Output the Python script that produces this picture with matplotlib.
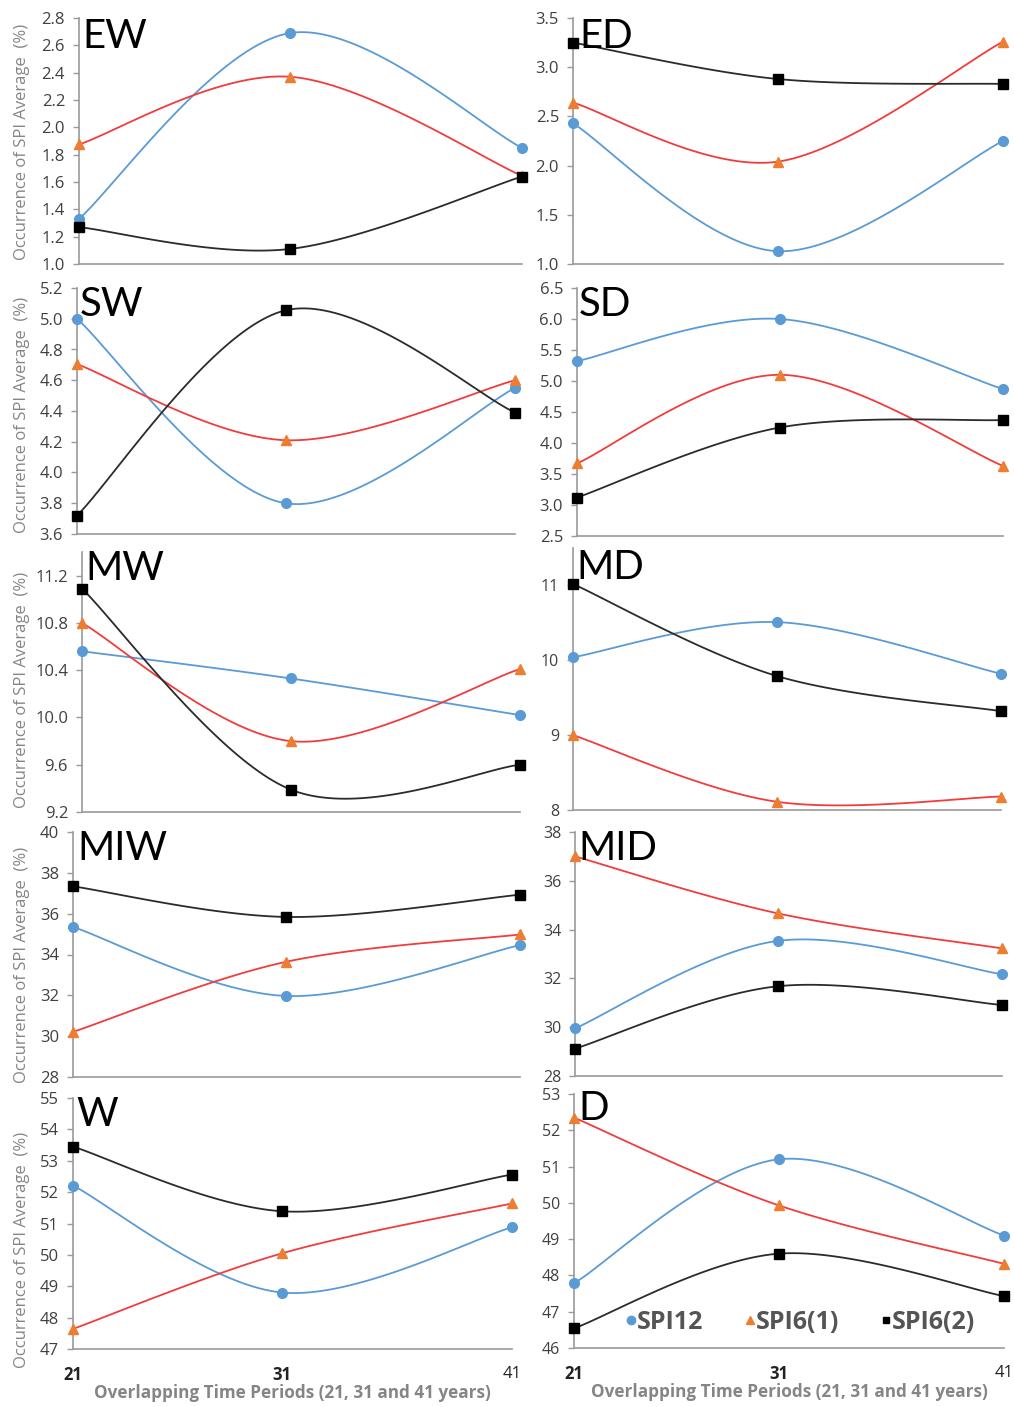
import numpy as np
import matplotlib
matplotlib.use("Agg")
import matplotlib.pyplot as plt
from matplotlib.lines import Line2D

plt.rcParams['font.family'] = ['Open Sans', 'DejaVu Sans']

periods = [21, 31, 41]

# values, order: 21, 31, 41 years
EW_SPI12 = [1.33, 2.69, 1.85]
EW_SPI6_1 = [1.875, 2.37, 1.645]
EW_SPI6_2 = [1.27, 1.11, 1.64]

ED_SPI12 = [2.43, 1.13, 2.25]
ED_SPI6_1 = [2.64, 2.04, 3.26]
ED_SPI6_2 = [3.25, 2.88, 2.83]

SW_SPI12 = [5.00, 3.80, 4.55]
SW_SPI6_1 = [4.705, 4.21, 4.60]
SW_SPI6_2 = [3.72, 5.055, 4.39]

SD_SPI12 = [5.32, 6.00, 4.87]
SD_SPI6_1 = [3.67, 5.10, 3.63]
SD_SPI6_2 = [3.12, 4.25, 4.37]

MW_SPI12 = [10.56, 10.33, 10.02]
MW_SPI6_1 = [10.80, 9.80, 10.41]
MW_SPI6_2 = [11.09, 9.39, 9.60]

MD_SPI12 = [10.04, 10.51, 9.82]
MD_SPI6_1 = [9.00, 8.11, 8.18]
MD_SPI6_2 = [11.02, 9.79, 9.32]

MIW_SPI12 = [35.35, 31.97, 34.46]
MIW_SPI6_1 = [30.21, 33.64, 34.98]
MIW_SPI6_2 = [37.34, 35.84, 36.93]

MID_SPI12 = [29.95, 33.54, 32.17]
MID_SPI6_1 = [37.00, 34.66, 33.23]
MID_SPI6_2 = [29.12, 31.68, 30.91]

W_SPI12 = [52.21, 48.80, 50.88]
W_SPI6_1 = [47.64, 50.05, 51.64]
W_SPI6_2 = [53.45, 51.39, 52.56]

D_SPI12 = [47.78, 51.20, 49.10]
D_SPI6_1 = [52.35, 49.93, 48.32]
D_SPI6_2 = [46.54, 48.60, 47.43]

series_names = ['SPI12', 'SPI6(1)', 'SPI6(2)']

W_PX, H_PX = 1014, 1407
fig = plt.figure(figsize=(W_PX / 100, H_PX / 100), dpi=100)

BLUE = '#5B9BD5'
RED = '#F23C3C'
ORANGE = '#ED7D31'
BLACK = '#2b2b2b'
AXC = '#9a9a9a'
TXT = '#404040'

# the source image puts 31 a bit left of centre, a mild power scale mimics it
P_EXP = 1.07


def fwd(x):
    d = np.asarray(x, dtype=float) - 21
    return np.sign(d) * np.abs(d) ** P_EXP


def inv(y):
    y = np.asarray(y, dtype=float)
    return 21 + np.sign(y) * np.abs(y) ** (1 / P_EXP)


def smooth(xs, ys, n=50):
    # excel-like smoothed line (catmull-rom as bezier)
    pts = np.column_stack([xs, ys]).astype(float)
    P = np.vstack([pts[0], pts, pts[-1]])
    t = np.linspace(0, 1, n)[:, None]
    out = []
    for i in range(1, len(P) - 2):
        p0, p1, p2, p3 = P[i - 1], P[i], P[i + 1], P[i + 2]
        c1 = p1 + (p2 - p0) / 6
        c2 = p2 - (p3 - p1) / 6
        seg = (1 - t) ** 3 * p1 + 3 * (1 - t) ** 2 * t * c1 + 3 * (1 - t) * t ** 2 * c2 + t ** 3 * p2
        out.append(seg)
    out = np.vstack(out)
    return out[:, 0], out[:, 1]


def panel(x21, x41, ytop_px, ybot_px, ylim, yticks, fmt, name, title_xy, data,
          tick_fs=12, bottom=False, ylab_y=None):
    left = x21 / W_PX
    width = (x41 - x21) / W_PX
    bot = 1 - ybot_px / H_PX
    height = (ybot_px - ytop_px) / H_PX
    ax = fig.add_axes([left, bot, width, height])
    ax.set_xscale('function', functions=(fwd, inv))
    s12, s61, s62 = data
    for ys, lc, mc, mk, ms in [(s12, BLUE, BLUE, 'o', 7),
                               (s61, RED, ORANGE, '^', 7),
                               (s62, BLACK, 'black', 's', 7)]:
        sx, sy = smooth(fwd(periods), ys)
        ax.plot(inv(sx), sy, color=lc, lw=1.3, clip_on=False, zorder=2)
        ax.plot(periods, ys, linestyle='none', marker=mk, ms=ms, color=mc,
                clip_on=False, zorder=3)
    ax.set_xlim(21, 41)
    ax.set_ylim(*ylim)
    ax.set_yticks(yticks)
    ax.set_yticklabels([fmt.format(v) for v in yticks])
    ax.tick_params(axis='y', length=4, width=1, color=AXC, labelsize=tick_fs,
                   labelcolor=TXT, pad=6)
    ax.minorticks_off()
    for sp in ['top', 'right']:
        ax.spines[sp].set_visible(False)
    for sp in ['left', 'bottom']:
        ax.spines[sp].set_color(AXC)
        ax.spines[sp].set_linewidth(1.2)
    ax.set_xticks(periods)
    ax.set_xticklabels([str(p) for p in periods])
    if bottom:
        ax.tick_params(axis='x', length=0, pad=12, labelsize=12, labelcolor='#222222')
        labs = ax.get_xticklabels()
        labs[0].set_fontweight('bold')
        labs[1].set_fontweight('bold')
        ax.set_xlabel('Overlapping Time Periods (21, 31 and 41 years)', fontsize=12.3,
                      fontweight='bold', color='#858585', labelpad=0.5)
    else:
        ax.tick_params(axis='x', length=0, labelbottom=False)
    fig.text(title_xy[0] / W_PX, 1 - title_xy[1] / H_PX, name, fontsize=29,
             color='black', ha='left', va='center', family=['Lato', 'DejaVu Sans'])
    if ylab_y is not None:
        fig.text(22 / W_PX, 1 - ylab_y / H_PX, 'Occurrence of SPI Average  (%)',
                 rotation=90, ha='center', va='center', fontsize=12, color='#858585')
    return ax


panel(79, 522, 18, 264, (1.0, 2.8), np.arange(1.0, 2.81, 0.2), '{:.1f}', 'EW', (82, 36),
      (EW_SPI12, EW_SPI6_1, EW_SPI6_2), ylab_y=142)
panel(573, 1003, 18, 264, (1.0, 3.5), np.arange(1.0, 3.51, 0.5), '{:.1f}', 'ED', (579, 36),
      (ED_SPI12, ED_SPI6_1, ED_SPI6_2))
panel(77, 515, 288, 534, (3.6, 5.2), np.arange(3.6, 5.21, 0.2), '{:.1f}', 'SW', (80, 305),
      (SW_SPI12, SW_SPI6_1, SW_SPI6_2), ylab_y=415)
panel(577, 1003, 288, 536, (2.5, 6.5), np.arange(2.5, 6.51, 0.5), '{:.1f}', 'SD', (579, 305),
      (SD_SPI12, SD_SPI6_1, SD_SPI6_2))
panel(82, 520, 552, 812, (9.2, 11.4), np.arange(9.2, 11.21, 0.4), '{:.1f}', 'MW', (85, 568),
      (MW_SPI12, MW_SPI6_1, MW_SPI6_2), ylab_y=690)
panel(573, 1001, 548, 810, (8, 11.5), [8, 9, 10, 11], '{:d}', 'MD', (576, 567),
      (MD_SPI12, MD_SPI6_1, MD_SPI6_2), tick_fs=11.5)
panel(73, 520, 832, 1077, (28, 40), list(range(28, 41, 2)), '{:d}', 'MIW', (77, 849),
      (MIW_SPI12, MIW_SPI6_1, MIW_SPI6_2), ylab_y=965)
panel(575, 1002, 832, 1076, (28, 38), list(range(28, 39, 2)), '{:d}', 'MID', (578, 848),
      (MID_SPI12, MID_SPI6_1, MID_SPI6_2), tick_fs=11.5)
panel(73, 512, 1098, 1349, (47, 55), list(range(47, 56)), '{:d}', 'W', (76, 1115),
      (W_SPI12, W_SPI6_1, W_SPI6_2), bottom=True, ylab_y=1250)
axd = panel(574, 1004, 1094, 1348, (46, 53), list(range(46, 54)), '{:d}', 'D', (578, 1108),
            (D_SPI12, D_SPI6_1, D_SPI6_2), tick_fs=11.5, bottom=True)

handles = [Line2D([], [], ls='none', marker='o', color=BLUE, ms=6),
           Line2D([], [], ls='none', marker='^', color=ORANGE, ms=6),
           Line2D([], [], ls='none', marker='s', color='black', ms=5)]
axd.legend(handles, series_names, loc='center', bbox_to_anchor=(0.525, 0.1), ncol=3,
           frameon=False, handlelength=0.5, handletextpad=0.0,
           columnspacing=1.6, labelcolor='#555555', borderpad=0,
           prop={'size': 18, 'weight': 'bold'})

fig.savefig('out.png', dpi=100)
